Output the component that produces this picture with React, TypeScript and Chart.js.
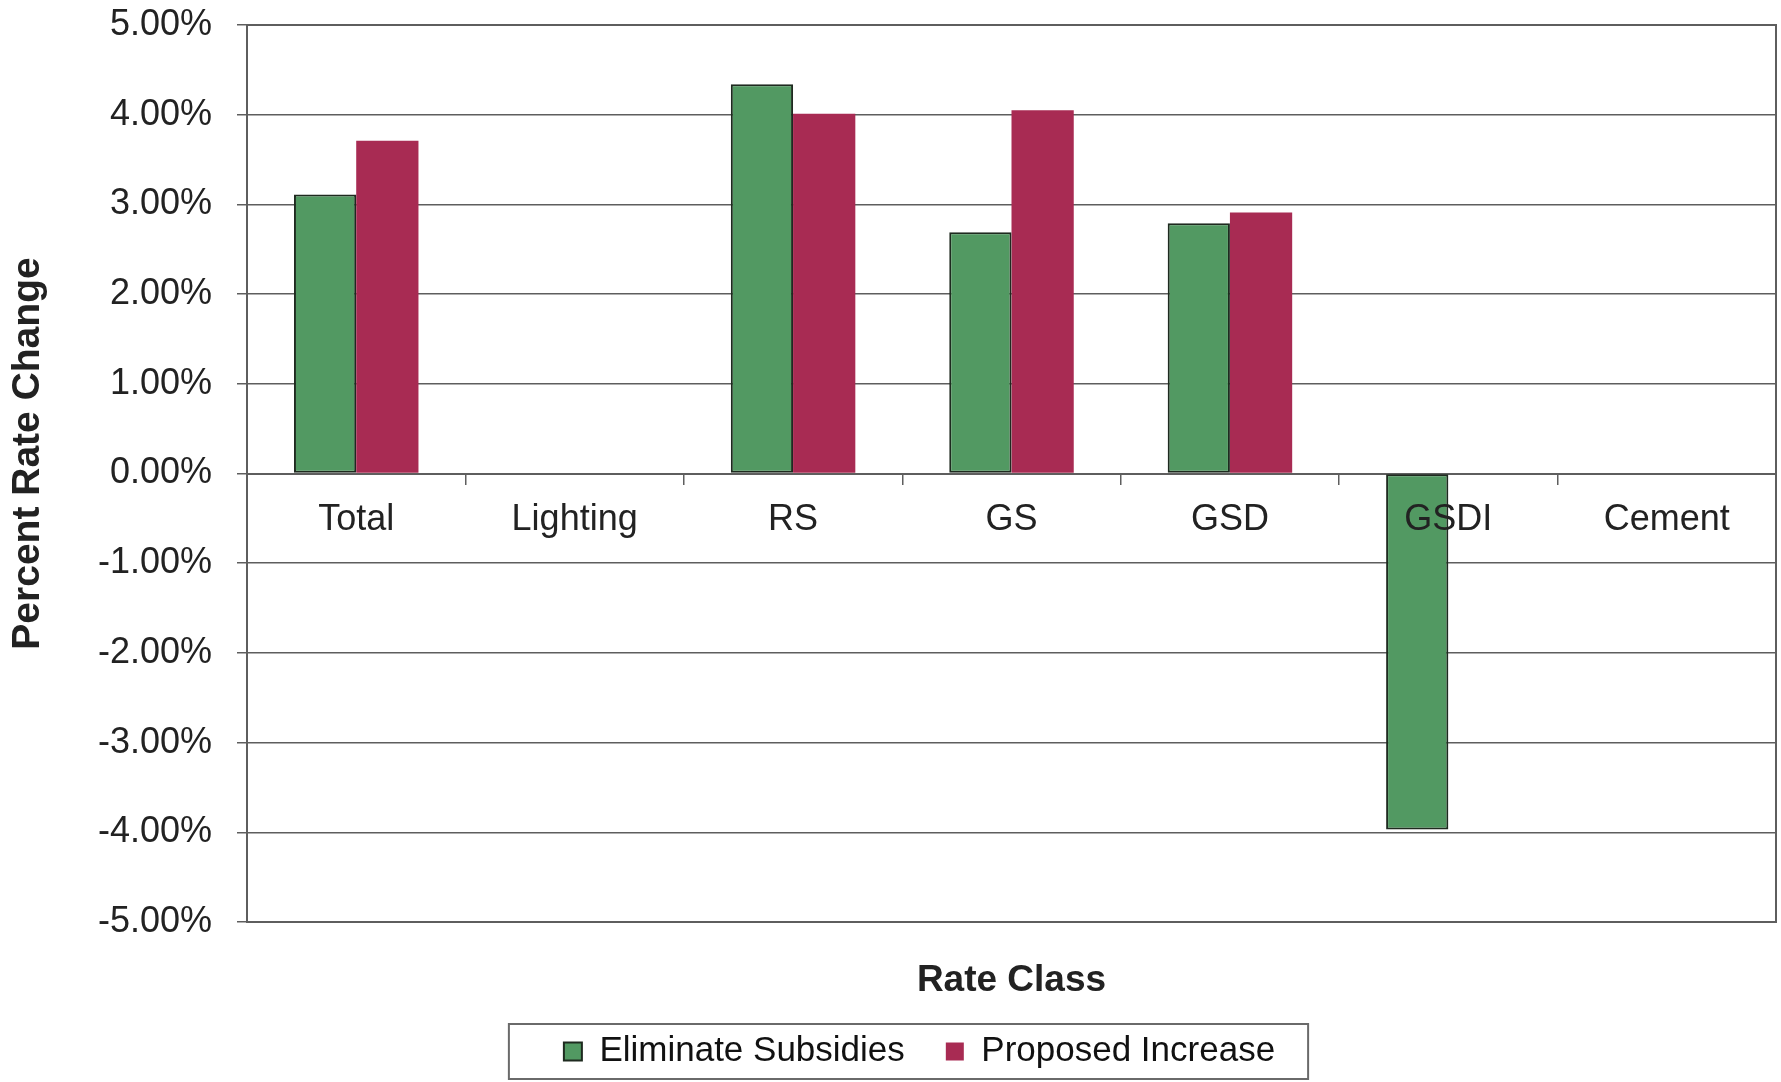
import React, { useEffect, useRef } from 'react';
import { Chart, registerables } from 'chart.js';

Chart.register(...registerables);

// Rate classes on the category axis
const rateClasses = ['Total', 'Lighting', 'RS', 'GS', 'GSD', 'GSDI', 'Cement'];

// Percent rate change per class (null = no bar)
const eliminateSubsidies: (number | null)[] = [3.11, null, 4.34, 2.69, 2.79, -3.97, null];
const proposedIncrease: (number | null)[] = [3.71, null, 4.01, 4.05, 2.91, null, null];

// Value axis range
const yMin = -5;
const yMax = 5;
const yStep = 1;

const yTitle = 'Percent Rate Change';
const xTitle = 'Rate Class';

const FONT = "'Liberation Sans', Arial, Helvetica, sans-serif";
const TEXT = '#222222';
const GRID = '#5e5e5e';

// Outline around the plot area and the legend, plus the rotated value-axis title
const framePlugin = {
  id: 'frame',
  afterDraw(chart: any) {
    const { ctx, chartArea: a, legend } = chart;
    ctx.save();
    ctx.strokeStyle = GRID;
    ctx.lineWidth = 2;
    ctx.strokeRect(a.left, a.top, a.right - a.left, a.bottom - a.top);

    const boxes = legend && legend.legendHitBoxes;
    if (boxes && boxes.length) {
      const first = boxes[0];
      const last = boxes[boxes.length - 1];
      const l = first.left - 55;
      const r = last.left + last.width + 33;
      const t = first.top - 10;
      const b = first.top + first.height + 10;
      ctx.strokeStyle = '#6a6a6a';
      ctx.lineWidth = 2;
      ctx.strokeRect(l, t, r - l, b - t);
    }

    ctx.translate(28, (a.top + a.bottom) / 2 - 20);
    ctx.rotate(-Math.PI / 2);
    ctx.fillStyle = TEXT;
    ctx.font = `bold 39px ${FONT}`;
    ctx.textAlign = 'center';
    ctx.textBaseline = 'middle';
    ctx.fillText(yTitle, 0, 0);
    ctx.restore();
  },
};

export default function App() {
  const canvasRef = useRef<HTMLCanvasElement | null>(null);

  useEffect(() => {
    if (!canvasRef.current) return;
    const chart = new Chart(canvasRef.current, {
      type: 'bar',
      data: {
        labels: rateClasses,
        datasets: [
          {
            label: 'Eliminate Subsidies',
            data: eliminateSubsidies,
            backgroundColor: '#529962',
            borderColor: '#1e2a1f',
            borderWidth: 2,
            borderSkipped: false,
            xAxisID: 'x',
            yAxisID: 'y',
          },
          {
            label: 'Proposed Increase',
            data: proposedIncrease,
            backgroundColor: '#a82b53',
            borderColor: '#a82b53',
            borderWidth: 0,
            xAxisID: 'x',
            yAxisID: 'y',
          },
        ],
      },
      options: {
        animation: false,
        responsive: true,
        maintainAspectRatio: false,
        categoryPercentage: 0.57,
        barPercentage: 1.0,
        layout: { padding: { left: 63, right: 5, top: 25, bottom: 3 } },
        plugins: {
          tooltip: { enabled: false },
          legend: {
            position: 'bottom',
            labels: {
              font: { family: FONT, size: 35 },
              color: '#111111',
              boxWidth: 18,
              boxHeight: 18,
              padding: 41,
            },
          },
        },
        scales: {
          y: {
            min: yMin,
            max: yMax,
            afterFit: (scale: any) => {
              scale.width = 184;
              scale.paddingTop = 0;
              scale.paddingBottom = 0;
            },
            ticks: {
              stepSize: yStep,
              padding: 25,
              color: TEXT,
              font: { family: FONT, size: 36 },
              callback: (v: any) => Number(v).toFixed(2) + '%',
            },
            grid: {
              color: GRID,
              lineWidth: 1.5,
              tickLength: 10,
              drawTicks: true,
            },
            border: { display: true, color: GRID, width: 2 },
          },
          x: {
            type: 'category',
            position: { y: 0 },
            offset: true,
            ticks: {
              z: 1,
              padding: 15,
              color: TEXT,
              font: { family: FONT, size: 36 },
              maxRotation: 0,
              autoSkip: false,
            },
            grid: {
              offset: true,
              drawOnChartArea: false,
              drawTicks: true,
              tickLength: 10,
              color: GRID,
              lineWidth: 1.5,
            },
            border: { display: true, color: GRID, width: 2 },
          },
          x2: {
            type: 'category',
            position: 'bottom',
            afterFit: (scale: any) => {
              scale.height = 71;
            },
            ticks: { display: false },
            grid: { display: false, drawTicks: false },
            border: { display: false },
            title: {
              display: true,
              text: xTitle,
              color: TEXT,
              font: { family: FONT, size: 37, weight: 'bold' },
              padding: { top: 0, bottom: -10 },
            },
          },
        },
      } as any,
      plugins: [framePlugin],
    });
    return () => chart.destroy();
  }, []);

  return (
    <div
      style={{
        position: 'fixed',
        left: 0,
        top: 0,
        width: 1781,
        height: 1082,
        background: '#ffffff',
      }}
    >
      <canvas ref={canvasRef} />
    </div>
  );
}
